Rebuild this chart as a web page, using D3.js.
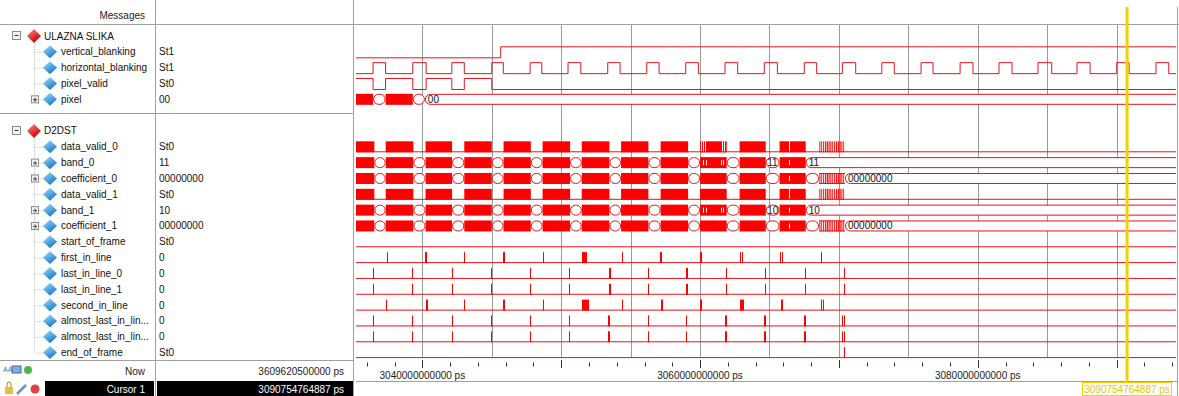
<!DOCTYPE html>
<html><head><meta charset="utf-8">
<script src="https://cdn.jsdelivr.net/npm/d3@7"></script>
<style>
body{margin:0;background:#fff}
svg{display:block}
text{font-family:"Liberation Sans",Arial,sans-serif}
</style></head>
<body><svg id="c" width="1179" height="396"></svg>
<script>
// ---------------- DATA (times in units of 1e9 ps) ----------------
const timeDomain = [3035.22, 3094.28];
const gridStep = 5, majorTickStep = 10, minorTickStep = 2, labelStep = 20;
const cursorPs = 3090754764887;
const nowPs = 3609620500000;

const groupNames = ["ULAZNA SLIKA", "D2DST"];
const rowNames = ["ULAZNA SLIKA","vertical_blanking","horizontal_blanking","pixel_valid","pixel","",
  "D2DST","data_valid_0","band_0","coefficient_0","data_valid_1","band_1","coefficient_1",
  "start_of_frame","first_in_line","last_in_line_0","last_in_line_1","second_in_line",
  "almost_last_in_lin...","almost_last_in_lin...","end_of_frame"];
const rowValues = ["","St1","St1","St0","00","","","St0","11","00000000","St0","10","00000000",
  "St0","0","0","0","0","0","0","St0"];
const expandable = ["pixel","band_0","coefficient_0","band_1","coefficient_1"];

// ULAZNA SLIKA
const verticalBlanking = [[3035.22,0],[3045.64,1]];
const hbRise = [3036.45,3039.31,3042.12,3045.00,3047.76,3050.49,3053.35,3056.16,3058.97,3061.80,
  3064.63,3067.51,3070.25,3073.09,3075.92,3078.73,3081.53,3084.34,3087.15,3090.01,3092.84];
const hbFall = [3037.35,3040.27,3043.02,3045.83,3048.60,3051.41,3054.24,3057.05,3059.88,3062.71,
  3065.57,3068.40,3071.21,3073.99,3076.78,3079.66,3082.47,3085.33,3088.09,3090.90,3093.76];
const pixelValidHigh = [[3035.22,3036.45],[3037.35,3039.31],[3040.27,3042.12],[3043.02,3045.00]];
const pixelBus = [["dense",3035.22,3036.45,""],["stable",3036.45,3037.35,""],["dense",3037.35,3039.31,""],
  ["stable",3039.31,3040.18,""],["stable",3040.18,3095.5,"00"]];

// D2DST line gaps (output blanking)
const gapStart = [3036.54,3039.35,3042.14,3045.00,3047.81,3050.64,3053.47,3056.28,3059.14,3061.92,3064.73,3067.61];
const gapEnd   = [3037.36,3040.23,3043.02,3045.85,3048.66,3051.48,3054.31,3057.16,3060.00,3062.85,3065.73,3068.57];
const finalBurst = [3068.57, 3070.44];
const bandGlitches = [3060.24,3060.42,3061.52,3061.68,3066.41];
const coefGlitches = [3066.41];
const valid0Glitches = [3060.08,3060.22,3060.36,3061.55,3061.70,3066.41];
const valid1Glitches = [3066.41];
const band0Label = "11", band1Label = "10", coefLabel = "00000000";

// single-bit pulse signals: [start, end]
const firstInLine = [[3037.43,3037.47],[3040.20,3040.33],[3043.01,3043.05],[3045.84,3045.97],[3048.70,3048.74],
  [3051.48,3051.74],[3051.81,3051.85],[3054.35,3054.39],[3057.15,3057.28],[3060.02,3060.15],
  [3062.90,3062.95],[3063.04,3063.09],[3065.75,3065.79],[3065.93,3065.97],[3068.68,3068.72]];
const secondInLine = [[3037.40,3037.44],[3040.24,3040.37],[3043.01,3043.05],[3045.80,3045.93],[3048.67,3048.71],
  [3051.48,3051.88],[3051.93,3051.97],[3054.35,3054.39],[3057.16,3057.29],[3060.03,3060.16],
  [3062.85,3063.15],[3065.80,3065.85],[3065.93,3065.98],[3068.73,3068.77],[3068.85,3068.89]];
const lastInLine0 = [[3036.46,3036.50],[3039.27,3039.31],[3042.11,3042.15],[3044.97,3045.01],[3047.75,3047.79],
  [3050.58,3050.62],[3053.42,3053.54],[3056.22,3056.26],[3059.00,3059.12],[3061.86,3061.90],
  [3064.67,3064.71],[3067.55,3067.59],[3070.36,3070.40]];
const lastInLine1 = [[3036.46,3036.50],[3039.27,3039.31],[3042.11,3042.15],[3044.97,3045.01],[3047.75,3047.79],
  [3050.58,3050.62],[3053.42,3053.54],[3056.22,3056.26],[3059.00,3059.12],[3061.86,3061.90],
  [3064.67,3064.71],[3067.55,3067.59],[3070.36,3070.40]];
const almostLast0 = [[3036.46,3036.50],[3039.27,3039.31],[3042.11,3042.15],[3044.97,3045.01],[3047.75,3047.79],
  [3050.58,3050.62],[3053.38,3053.52],[3056.22,3056.26],[3059.02,3059.06],[3061.82,3061.96],
  [3064.63,3064.77],[3067.47,3067.61],[3070.24,3070.28],[3070.38,3070.42]];
const almostLast1 = [[3036.46,3036.50],[3039.27,3039.31],[3042.11,3042.15],[3044.97,3045.01],[3047.75,3047.79],
  [3050.58,3050.62],[3053.38,3053.52],[3056.22,3056.26],[3059.02,3059.06],[3061.82,3061.96],
  [3064.63,3064.77],[3067.47,3067.61],[3070.24,3070.28],[3070.38,3070.42]];
const endOfFrame = [[3070.38,3070.42]];
const startOfFrame = [];

// ---------------- DRAWING ----------------
const svg = d3.select("#c");
const RED = "#ff0000", LINE = "#e0141e", GRID = "#9a9a9a", PANE = "#a0a0a0";
const x = d3.scaleLinear().domain(timeDomain).range([356, 1176]);
const yRow = d3.scaleLinear().domain([0, 21]).range([27.5, 27.5 + 21 * 15.83]);
const hi = i => yRow(i) + 3, lo = i => yRow(i) + 14, mid = i => yRow(i) + 8.5;
const row = name => rowNames.indexOf(name);

const defs = svg.append("defs");
function grad(id, c1, c2) {
  const g = defs.append("linearGradient").attr("id", id).attr("x1", 0).attr("y1", 0).attr("x2", 0.6).attr("y2", 1);
  g.append("stop").attr("offset", 0).attr("stop-color", c1);
  g.append("stop").attr("offset", 1).attr("stop-color", c2);
}
grad("blueG", "#9fe3ff", "#1a78c8");
grad("redG", "#ff8a8a", "#c80000");
const pat = defs.append("pattern").attr("id", "stripes").attr("patternUnits", "userSpaceOnUse")
  .attr("width", 2.2).attr("height", 20);
pat.append("rect").attr("width", 1.2).attr("height", 20).attr("fill", RED);
defs.append("clipPath").attr("id", "waveClip").append("rect")
  .attr("x", 356).attr("y", 25).attr("width", 820).attr("height", 340);

// pane frames
svg.append("line").attr("x1", 0).attr("x2", 1179).attr("y1", 24.5).attr("y2", 24.5).attr("stroke", PANE);
svg.append("line").attr("x1", 155.5).attr("x2", 155.5).attr("y1", 0).attr("y2", 396).attr("stroke", PANE);
svg.append("line").attr("x1", 353.5).attr("x2", 353.5).attr("y1", 0).attr("y2", 396).attr("stroke", PANE);
svg.append("line").attr("x1", 1177.5).attr("x2", 1177.5).attr("y1", 7).attr("y2", 396).attr("stroke", PANE);
svg.append("line").attr("x1", 0).attr("x2", 353).attr("y1", 113.5).attr("y2", 113.5).attr("stroke", PANE);
svg.append("line").attr("x1", 0).attr("x2", 353).attr("y1", 360.5).attr("y2", 360.5).attr("stroke", PANE);
svg.append("line").attr("x1", 356).attr("x2", 1177).attr("y1", 381.5).attr("y2", 381.5).attr("stroke", PANE);

svg.append("text").attr("x", 145).attr("y", 15).attr("text-anchor", "end").attr("font-size", 10)
  .attr("dy", "0.35em").attr("fill", "#222").text("Messages");

// tree + names
const tree = svg.append("g");
rowNames.forEach((n, i) => {
  if (!n) return;
  const cy = mid(i);
  if (groupNames.includes(n)) {
    tree.append("rect").attr("x", 12.5).attr("y", cy - 4.5).attr("width", 8).attr("height", 8)
      .attr("fill", "#f4f4f4").attr("stroke", "#8a8a8a");
    tree.append("line").attr("x1", 14.5).attr("x2", 18.5).attr("y1", cy - 0.5).attr("y2", cy - 0.5).attr("stroke", "#333");
    tree.append("path").attr("d", `M34,${cy - 7} L41,${cy} L34,${cy + 7} L27,${cy} Z`).attr("fill", "url(#redG)");
    tree.append("text").attr("x", 44).attr("y", cy).attr("dy", "0.35em").attr("font-size", 10).attr("fill", "#111").text(n);
  } else {
    const prevIsGroup = rowNames[i - 1] && groupNames.includes(rowNames[i - 1]);
    tree.append("line").attr("x1", 34.5).attr("x2", 34.5).attr("y1", mid(i - 1) + (prevIsGroup ? 7 : 0)).attr("y2", cy)
      .attr("stroke", "#c0c0c0").attr("stroke-dasharray", "1,1");
    tree.append("line").attr("x1", 34.5).attr("x2", 44).attr("y1", cy + 0.5).attr("y2", cy + 0.5)
      .attr("stroke", "#c0c0c0").attr("stroke-dasharray", "1,1");
    if (expandable.includes(n)) {
      tree.append("rect").attr("x", 31.5).attr("y", cy - 3.5).attr("width", 7).attr("height", 7)
        .attr("fill", "#f4f4f4").attr("stroke", "#8a8a8a");
      tree.append("line").attr("x1", 33).attr("x2", 37).attr("y1", cy + 0.5).attr("y2", cy + 0.5).attr("stroke", "#333");
      tree.append("line").attr("x1", 35).attr("x2", 35).attr("y1", cy - 1.5).attr("y2", cy + 2.5).attr("stroke", "#333");
    }
    tree.append("path").attr("d", `M50,${cy - 6.5} L57,${cy} L50,${cy + 6.5} L43,${cy} Z`).attr("fill", "url(#blueG)");
    tree.append("text").attr("x", 61).attr("y", cy).attr("dy", "0.35em").attr("font-size", 10).attr("fill", "#111").text(n);
    tree.append("text").attr("x", 159).attr("y", cy).attr("dy", "0.35em").attr("font-size", 10).attr("fill", "#111").text(rowValues[i]);
  }
});

// grid
const gridTicks = d3.range(Math.ceil(timeDomain[0] / gridStep) * gridStep, timeDomain[1], gridStep);
svg.append("g").selectAll("line").data(gridTicks).join("line")
  .attr("x1", d => Math.round(x(d)) + 0.5).attr("x2", d => Math.round(x(d)) + 0.5)
  .attr("y1", 25).attr("y2", 358).attr("stroke", GRID);

const W = svg.append("g").attr("clip-path", "url(#waveClip)");
const stepLine = d3.line().x(d => x(d[0])).y(d => d[1]).curve(d3.curveStepAfter);

// vertical_blanking
(function () {
  const i = row("vertical_blanking");
  const pts = verticalBlanking.map(d => [d[0], d[1] ? hi(i) + 0.5 : lo(i) + 0.5]);
  pts.push([timeDomain[1], pts[pts.length - 1][1]]);
  W.append("path").attr("d", stepLine(pts)).attr("fill", "none").attr("stroke", LINE);
})();
// horizontal_blanking
(function () {
  const i = row("horizontal_blanking");
  const pts = [[timeDomain[0], lo(i) + 0.5]];
  hbRise.forEach((r, k) => { pts.push([r, hi(i) + 0.5]); pts.push([hbFall[k], lo(i) + 0.5]); });
  pts.push([timeDomain[1], lo(i) + 0.5]);
  W.append("path").attr("d", stepLine(pts)).attr("fill", "none").attr("stroke", LINE);
})();
// pixel_valid
(function () {
  const i = row("pixel_valid");
  const pts = [];
  pixelValidHigh.forEach(d => { pts.push([d[0], hi(i) + 0.5]); pts.push([d[1], lo(i) + 0.5]); });
  pts.push([timeDomain[1], lo(i) + 0.5]);
  W.append("path").attr("d", stepLine(pts)).attr("fill", "none").attr("stroke", LINE);
})();

// bus drawing
function drawBus(i, segs, glitches) {
  const g = W.append("g");
  const t = hi(i), b = lo(i), m = (t + b) / 2;
  segs.forEach(s => {
    const [kind, t0, t1] = s;
    const x0 = x(t0), x1 = x(t1);
    if (kind === "dense") {
      g.append("rect").attr("x", x0).attr("y", t).attr("width", Math.max(1, x1 - x0)).attr("height", b - t).attr("fill", RED);
    } else if (kind === "sparse") {
      g.append("rect").attr("x", x0).attr("y", t).attr("width", x1 - x0).attr("height", b - t).attr("fill", "url(#stripes)");
      g.append("line").attr("x1", x0).attr("x2", x1).attr("y1", t + 0.5).attr("y2", t + 0.5).attr("stroke", LINE);
      g.append("line").attr("x1", x0).attr("x2", x1).attr("y1", b - 0.5).attr("y2", b - 0.5).attr("stroke", LINE);
    }
  });
  (glitches || []).forEach(gt => g.append("rect").attr("x", Math.round(x(gt))).attr("y", t + 3).attr("width", 1)
    .attr("height", b - t - 6).attr("fill", "#fff"));
  segs.forEach(s => {
    const [kind, t0, t1, label] = s;
    if (kind !== "stable") return;
    const x0 = x(t0), x1 = x(t1), w = x1 - x0;
    const r = Math.min(5, w / 2);
    g.append("rect").attr("x", x0 + 0.5).attr("y", t + 0.5).attr("width", Math.max(0, w - 1)).attr("height", b - t - 1)
      .attr("rx", r).attr("ry", (b - t) / 2).attr("fill", "#fff").attr("stroke", LINE);
    if (label && w > label.length * 5.6 + 2) {
      g.append("text").attr("x", x0 + (w < 20 ? 1.5 : 3)).attr("y", m).attr("dy", "0.35em").attr("font-size", 10).attr("fill", "#111").text(label);
    }
  });
}
drawBus(row("pixel"), pixelBus, []);

// D2DST bus segments built from gaps
function d2dstBus(finalKind, label) {
  const segs = [];
  let t = timeDomain[0];
  const n = gapStart.length;
  gapStart.forEach((gs, k) => {
    segs.push(["dense", t, gs, ""]);
    if (k === n - 1) {
      if (finalKind === "hold") segs.push(["stable", gs, timeDomain[1] + 1, label]);
      else {
        segs.push(["stable", gs, gapEnd[k], ""]);
        segs.push(["sparse", finalBurst[0], finalBurst[1], ""]);
        segs.push(["stable", finalBurst[1], timeDomain[1] + 1, label]);
      }
    } else segs.push(["stable", gs, gapEnd[k], (k === n - 2 && finalKind === "hold") ? label : ""]);
    t = gapEnd[k];
  });
  return segs;
}
drawBus(row("band_0"), d2dstBus("hold", band0Label), bandGlitches);
drawBus(row("coefficient_0"), d2dstBus("settle", coefLabel), coefGlitches);
drawBus(row("band_1"), d2dstBus("hold", band1Label), bandGlitches);
drawBus(row("coefficient_1"), d2dstBus("settle", coefLabel), coefGlitches);

// data_valid
function dataValid(i, glitches) {
  const g = W.append("g");
  g.append("line").attr("x1", x(timeDomain[0])).attr("x2", x(timeDomain[1])).attr("y1", lo(i) - 0.5).attr("y2", lo(i) - 0.5).attr("stroke", LINE);
  let t = timeDomain[0];
  const blocks = [];
  gapStart.forEach((gs, k) => { blocks.push([t, gs]); t = gapEnd[k]; });
  blocks.forEach(bk => {
    g.append("rect").attr("x", x(bk[0])).attr("y", hi(i)).attr("width", x(bk[1]) - x(bk[0])).attr("height", lo(i) - hi(i))
      .attr("fill", RED);
  });
  g.append("rect").attr("x", x(finalBurst[0])).attr("y", hi(i)).attr("width", x(finalBurst[1]) - x(finalBurst[0]))
    .attr("height", lo(i) - hi(i)).attr("fill", "url(#stripes)");
  glitches.forEach(gt => g.append("rect").attr("x", Math.round(x(gt))).attr("y", hi(i)).attr("width", 1)
    .attr("height", lo(i) - hi(i) - 1).attr("fill", "#fff"));
}
dataValid(row("data_valid_0"), valid0Glitches);
dataValid(row("data_valid_1"), valid1Glitches);

// pulse rows
function pulses(i, arr) {
  const g = W.append("g");
  g.append("line").attr("x1", x(timeDomain[0])).attr("x2", x(timeDomain[1])).attr("y1", lo(i) - 0.5).attr("y2", lo(i) - 0.5).attr("stroke", LINE);
  g.selectAll("rect").data(arr).join("rect")
    .attr("x", d => Math.round(x(d[0]))).attr("y", hi(i))
    .attr("width", d => Math.max(1, Math.round(x(d[1]) - x(d[0]))))
    .attr("height", lo(i) - hi(i)).attr("fill", RED);
}
pulses(13, startOfFrame);
pulses(14, firstInLine);
pulses(15, lastInLine0);
pulses(16, lastInLine1);
pulses(17, secondInLine);
pulses(18, almostLast0);
pulses(19, almostLast1);
pulses(20, endOfFrame);

// time axis
const axisG = svg.append("g");
const minor = d3.range(Math.ceil(timeDomain[0] / minorTickStep) * minorTickStep, timeDomain[1], minorTickStep);
axisG.selectAll("line").data(minor).join("line")
  .attr("x1", d => Math.round(x(d)) + 0.5).attr("x2", d => Math.round(x(d)) + 0.5)
  .attr("y1", d => d % majorTickStep === 0 ? 360 : 362.5).attr("y2", d => d % majorTickStep === 0 ? 368 : 366.5)
  .attr("stroke", "#333");
axisG.selectAll("text").data(minor.filter(d => d % labelStep === 0)).join("text")
  .attr("x", d => x(d)).attr("y", 375).attr("dy", "0.35em").attr("text-anchor", "middle")
  .attr("font-size", 10).attr("fill", "#222").text(d => Math.round(d * 1e9) + " ps");

// cursor
const cx = x(cursorPs / 1e9);
svg.append("rect").attr("x", cx - 1.5).attr("y", 7).attr("width", 3).attr("height", 375).attr("fill", "#f5d000");
svg.append("rect").attr("x", cx - 44.5).attr("y", 382.5).attr("width", 89).attr("height", 13).attr("fill", "#fff").attr("stroke", "#f0d000");
svg.append("text").attr("x", cx).attr("y", 389).attr("dy", "0.35em").attr("text-anchor", "middle")
  .attr("font-size", 10).attr("fill", "#e8c400").text(cursorPs + " ps");

// bottom-left status rows
svg.append("text").attr("x", 145).attr("y", 371).attr("dy", "0.35em").attr("text-anchor", "end").attr("font-size", 10).attr("fill", "#222").text("Now");
svg.append("text").attr("x", 344).attr("y", 371).attr("dy", "0.35em").attr("text-anchor", "end").attr("font-size", 10).attr("fill", "#222").text(nowPs + " ps");
svg.append("rect").attr("x", 45).attr("y", 381).attr("width", 109).attr("height", 15).attr("fill", "#000");
svg.append("rect").attr("x", 157).attr("y", 381).attr("width", 196).attr("height", 15).attr("fill", "#000");
svg.append("text").attr("x", 145).attr("y", 389).attr("dy", "0.35em").attr("text-anchor", "end").attr("font-size", 10).attr("fill", "#fff").text("Cursor 1");
svg.append("text").attr("x", 344).attr("y", 389).attr("dy", "0.35em").attr("text-anchor", "end").attr("font-size", 10).attr("fill", "#fff").text(cursorPs + " ps");
// small toolbar icons
svg.append("rect").attr("x", 12).attr("y", 366).attr("width", 9).attr("height", 7).attr("fill", "#7ab0e0").attr("stroke", "#3d6fa8");
svg.append("circle").attr("cx", 28).attr("cy", 370).attr("r", 4).attr("fill", "#4cb84c");
svg.append("text").attr("x", 3).attr("y", 370).attr("dy", "0.35em").attr("font-size", 7).attr("fill", "#3d6fa8").text("AA");
svg.append("rect").attr("x", 5).attr("y", 387).attr("width", 8).attr("height", 7).attr("fill", "#e8c040");
svg.append("path").attr("d", "M7,387 v-3 a2,2 0 0 1 4,0 v3").attr("fill", "none").attr("stroke", "#a08020");
svg.append("line").attr("x1", 17).attr("x2", 26).attr("y1", 394).attr("y2", 385).attr("stroke", "#7090c0").attr("stroke-width", 2.5);
svg.append("circle").attr("cx", 35).attr("cy", 389).attr("r", 4.5).attr("fill", "#e04040");
</script></body></html>
